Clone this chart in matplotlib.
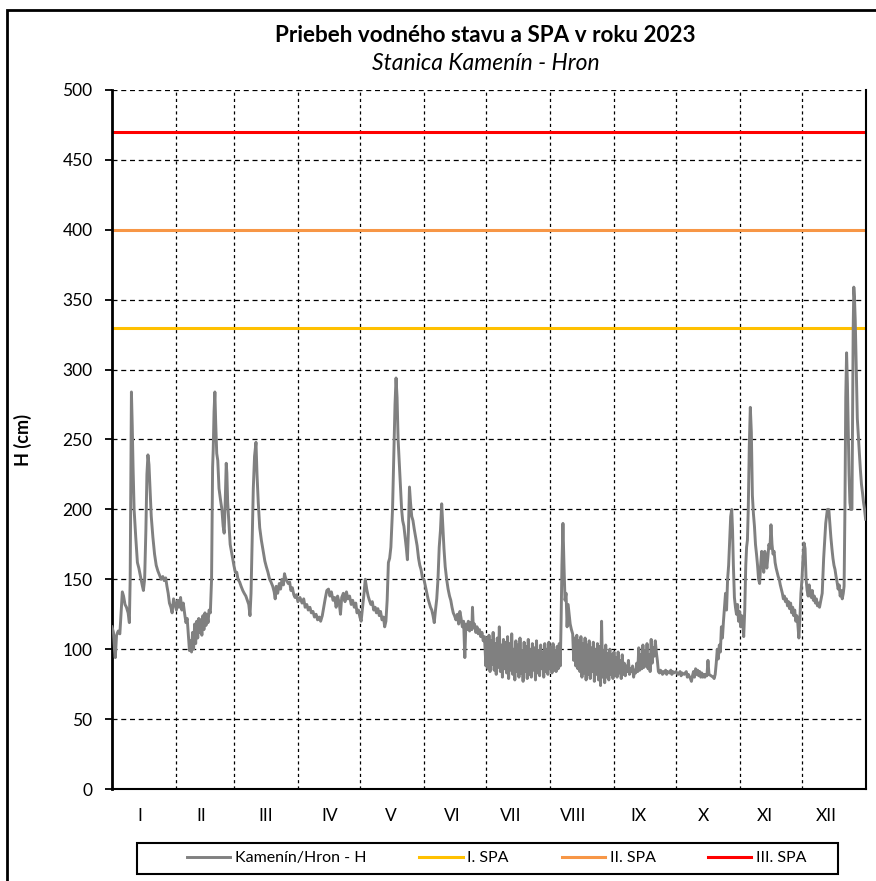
import numpy as np
import matplotlib
matplotlib.use('Agg')
import matplotlib.pyplot as plt
from matplotlib.patches import Rectangle

plt.rcParams['font.family'] = ['Lato', 'DejaVu Sans']

# water level readings, (day of year from 1 Jan, H in cm)
jan = [(0, 116), (0.7, 112), (1.2, 100), (1.6, 94), (2.2, 110), (3, 113), (3.8, 111), (4.5, 128),
       (5, 141), (5.6, 138), (6.3, 132), (7, 130), (7.8, 126), (8.4, 119), (8.8, 150), (9.1, 220),
       (9.4, 284), (9.8, 260), (10.2, 230), (10.7, 200), (11.5, 180), (12.3, 162), (13, 158),
       (13.8, 152), (14.6, 146), (15.2, 142), (15.8, 150), (16.4, 185), (16.9, 225), (17.4, 239),
       (17.9, 232), (18.4, 215), (19, 195), (19.8, 180), (20.6, 168), (21.4, 160), (22.2, 156),
       (23, 153), (23.8, 150), (24.6, 152), (25.3, 149), (26, 151), (26.6, 145), (27.2, 140),
       (27.8, 133), (28.5, 130), (29.1, 126), (29.8, 136), (30.5, 132)]
feb = [(31.2, 128), (31.8, 135), (32.5, 130), (33.2, 137), (33.8, 128), (34.5, 133), (35.2, 125),
       (35.8, 119), (36.4, 122), (37, 110), (37.5, 99), (38, 106), (38.5, 98), (39, 112), (39.5, 100),
       (40, 118), (40.5, 104), (41, 120), (41.5, 108), (42, 122), (42.5, 112), (43, 121), (43.5, 110),
       (44, 124), (44.5, 114), (45, 126), (45.5, 117), (46, 125), (46.5, 119), (47, 128), (47.6, 126),
       (48.2, 150), (48.7, 230), (49, 243), (49.4, 270), (49.8, 284), (50.2, 262), (50.7, 240),
       (51.2, 235), (51.8, 215), (52.5, 207), (53.2, 200), (53.8, 188), (54.3, 183), (54.8, 205),
       (55.3, 233), (55.6, 226), (56, 205), (56.6, 190), (57.2, 175), (57.8, 170), (58.4, 165)]
mar = [(59, 160), (59.7, 155), (60.4, 155), (61, 150), (61.8, 148), (62.5, 145), (63.3, 142),
       (64, 140), (64.8, 138), (65.5, 135), (66.2, 132), (66.8, 124), (67.3, 140), (67.8, 175),
       (68.4, 215), (69, 238), (69.7, 248), (70.2, 225), (70.8, 205), (71.5, 187), (72.3, 178),
       (73.2, 170), (74, 163), (74.7, 159), (75.5, 155), (76.3, 150), (77, 148), (77.8, 145),
       (78.5, 141), (79, 136), (79.5, 145), (80.2, 140), (81, 147), (81.6, 143), (82.3, 150),
       (83, 146), (83.5, 154), (84, 151), (84.6, 149), (85.3, 147), (86, 148), (86.6, 142),
       (87.3, 144), (88, 139), (88.6, 137), (89.3, 139)]
apr = [(90, 134), (91, 137), (92, 133), (92.8, 136), (93.5, 130), (94.3, 132), (95, 128), (95.8, 130),
       (96.5, 126), (97.3, 127), (98, 123), (98.8, 125), (99.5, 121), (100.3, 123), (101, 120),
       (101.8, 124), (102.5, 130), (103.2, 136), (104, 142), (104.8, 143), (105.5, 138), (106.2, 141),
       (107, 135), (107.8, 137), (108.5, 130), (109.2, 138), (110, 133), (110.6, 125), (111.2, 137),
       (112, 140), (112.8, 134), (113.5, 141), (114.2, 136), (115, 138), (115.8, 132), (116.5, 135),
       (117.3, 130), (118, 133), (118.6, 126), (119.3, 128)]
may = [(120, 123), (120.6, 120), (121.3, 130), (122, 140), (122.6, 150), (123.3, 143), (124, 138),
       (124.6, 135), (125.3, 132), (126, 134), (126.7, 128), (127.4, 130), (128, 126), (128.7, 129),
       (129.4, 124), (130, 127), (130.7, 121), (131.4, 123), (132, 116), (132.6, 120), (133.2, 135),
       (133.8, 162), (134.4, 165), (135, 173), (135.8, 200), (136.5, 245), (137, 275), (137.5, 294),
       (138, 280), (138.5, 250), (139, 235), (139.6, 218), (140.2, 200), (140.7, 192), (141.3, 188),
       (141.9, 180), (142.5, 172), (143, 164), (143.5, 185), (144, 216), (144.5, 205), (145.1, 195),
       (145.7, 192), (146.3, 186), (147, 180), (147.7, 174), (148.4, 165), (149, 160), (149.6, 157),
       (150.3, 151)]
jun = [(151, 150), (151.7, 145), (152.4, 140), (153, 136), (153.6, 133), (154.2, 130), (154.8, 128),
       (155.4, 124), (156, 119), (156.6, 128), (157.2, 136), (157.8, 150), (158.4, 173), (159, 185),
       (159.6, 204), (160.1, 190), (160.7, 172), (161.3, 159), (162, 150), (162.7, 143), (163.4, 138),
       (164, 135), (164.6, 130), (165.2, 126), (165.8, 124), (166.5, 121), (167.2, 125), (167.8, 118),
       (168.4, 127), (169, 122), (169.6, 116), (170.2, 120), (170.8, 94), (171.3, 118), (171.9, 114),
       (172.5, 120), (173.1, 113), (173.7, 119), (174.2, 114), (174.5, 130), (174.9, 116), (175.5, 118),
       (176.1, 112), (176.7, 116), (177.3, 111), (177.9, 114), (178.5, 109), (179.1, 112), (179.7, 106),
       (180.3, 109)]
jul = [(181, 88), (181.5, 108), (182, 86), (182.5, 110), (183, 84), (183.5, 106), (184, 89), (184.5, 112),
       (185, 85), (185.5, 104), (186, 82), (186.5, 108), (187, 87), (187.5, 116), (188, 84), (188.5, 103),
       (189, 80), (189.5, 107), (190, 86), (190.5, 105), (191, 83), (191.5, 109), (192, 79), (192.5, 104),
       (193, 85), (193.5, 111), (194, 82), (194.5, 100), (195, 78), (195.5, 106), (196, 84), (196.5, 103),
       (197, 80), (197.5, 108), (198, 83), (198.5, 99), (199, 77), (199.5, 105), (200, 84), (200.5, 102),
       (201, 79), (201.5, 107), (202, 82), (202.5, 100), (203, 80), (203.5, 104), (204, 85), (204.5, 101),
       (205, 78), (205.5, 106), (206, 83), (206.5, 99), (207, 81), (207.5, 103), (208, 86), (208.5, 98),
       (209, 80), (209.5, 104), (210, 84), (210.5, 100), (211, 82), (211.5, 105)]
aug = [(212, 86), (212.5, 101), (213, 83), (213.5, 104), (214, 85), (214.5, 99), (215, 84), (215.5, 102),
       (216, 86), (216.5, 104), (217, 88), (217.4, 120), (217.8, 160), (218.3, 190), (218.8, 160),
       (219.3, 135), (219.8, 140), (220.3, 116), (220.8, 132), (221.3, 125), (221.8, 118), (222.4, 114),
       (223, 111), (223.5, 92), (224, 108), (224.5, 88), (225, 110), (225.5, 86), (226, 106), (226.5, 84),
       (227, 109), (227.5, 80), (228, 104), (228.5, 83), (229, 108), (229.5, 78), (230, 103), (230.5, 82),
       (231, 106), (231.5, 79), (232, 101), (232.5, 84), (233, 105), (233.5, 77), (234, 100), (234.5, 82),
       (235, 104), (235.5, 78), (236, 102), (236.5, 74), (237, 120), (237.5, 80), (238, 99), (238.5, 76),
       (239, 103), (239.5, 80), (240, 97), (240.5, 78), (241, 100), (241.5, 82), (242, 96), (242.5, 79)]
sep = [(243, 98), (243.5, 81), (244, 94), (244.5, 80), (245, 98), (245.5, 83), (246, 92), (246.5, 79),
       (247, 96), (247.5, 82), (248, 90), (248.5, 81), (249, 88), (249.5, 84), (250, 92), (250.5, 82),
       (251, 86), (251.5, 84), (252, 88), (252.5, 80), (253, 85), (253.5, 83), (254, 90), (254.5, 84),
       (255, 101), (255.5, 85), (256, 96), (256.5, 86), (257, 103), (257.5, 87), (258, 99), (258.5, 88),
       (259, 104), (259.5, 86), (260, 96), (260.5, 84), (261, 107), (261.5, 90), (262, 101), (262.5, 95),
       (263, 106), (263.5, 98), (264, 92), (264.5, 84), (265, 83), (265.5, 85), (266, 84), (266.5, 82),
       (267, 84), (267.5, 83), (268, 85), (268.5, 82), (269, 84), (270, 83), (270.5, 85), (271, 82),
       (271.5, 84), (272, 83)]
oct_ = [(273, 84), (274, 82), (275, 84), (275.5, 81), (276, 83), (277, 82), (278, 84), (278.5, 80),
        (279, 82), (280, 79), (280.5, 77), (281, 81), (281.5, 84), (282, 80), (282.5, 86), (283, 82),
        (283.5, 85), (284, 81), (284.5, 84), (285, 80), (285.5, 83), (286, 80), (286.5, 82), (287, 80),
        (287.5, 82), (288, 81), (288.5, 92), (289, 82), (290, 81), (291, 80), (291.5, 79), (292, 82),
        (292.5, 90), (293, 100), (293.5, 93), (294, 103), (294.5, 98), (295, 116), (295.5, 108),
        (296, 120), (296.5, 130), (297, 140), (297.5, 128), (298, 150), (298.5, 160), (299, 178),
        (299.5, 195), (300, 200), (300.4, 185), (300.8, 160), (301.3, 137), (301.8, 130), (302.3, 125),
        (302.8, 132), (303.3, 120)]
nov = [(303.8, 127), (304.3, 116), (304.8, 124), (305.3, 119), (305.8, 109), (306.3, 128), (306.8, 160),
       (307.2, 173), (307.6, 178), (308, 200), (308.5, 245), (309, 273), (309.5, 255), (310, 210),
       (310.5, 197), (311, 188), (311.5, 175), (312, 168), (312.5, 160), (313, 150), (313.5, 147),
       (314, 160), (314.5, 170), (315, 162), (315.5, 155), (316, 170), (316.5, 165), (317, 158),
       (317.5, 166), (318, 175), (318.5, 172), (319, 189), (319.5, 175), (320, 168), (320.5, 170),
       (321, 162), (321.5, 158), (322, 155), (322.5, 152), (323, 150), (323.5, 146), (324, 143),
       (324.5, 140), (325, 136), (325.5, 138), (326, 134), (326.5, 136), (327, 131), (327.5, 134),
       (328, 129), (328.5, 133), (329, 126), (329.5, 130), (330, 124), (330.5, 128), (331, 120),
       (331.5, 124), (332, 118), (332.5, 108), (333, 122)]
dec = [(333.5, 140), (334, 150), (334.5, 165), (335, 176), (335.5, 172), (336, 150), (336.5, 142),
       (337, 138), (337.5, 146), (338, 140), (338.5, 137), (339, 142), (339.5, 135), (340, 138),
       (340.5, 133), (341, 136), (341.5, 131), (342, 133), (342.5, 130), (343, 134), (343.8, 140),
       (344.5, 165), (345.5, 190), (346.3, 200), (347, 200), (347.5, 190), (348, 180), (348.5, 172),
       (349, 165), (349.5, 160), (350, 157), (350.5, 152), (351, 148), (351.5, 143), (352, 146),
       (352.5, 138), (353, 142), (353.5, 136), (354, 140), (354.4, 145), (354.8, 200), (355.2, 280),
       (355.6, 312), (356, 290), (356.4, 257), (356.8, 225), (357.2, 205), (357.6, 200), (358.2, 200),
       (358.5, 260), (358.8, 330), (359.1, 359), (359.4, 352), (359.8, 335), (360.3, 300), (360.8, 265),
       (361.3, 252), (361.8, 240), (362.3, 228), (362.8, 218), (363.3, 212), (363.8, 205), (364.3, 200),
       (364.8, 193)]

month_starts = [31, 59, 90, 120, 151, 181, 212, 243, 273, 304, 334]
label_pos = [13.5, 43, 74.5, 105.5, 135, 164.6, 193, 223, 255, 286.5, 316, 345.6]
month_names = ['I', 'II', 'III', 'IV', 'V', 'VI', 'VII', 'VIII', 'IX', 'X', 'XI', 'XII']

spa_levels = [330, 400, 470]
spa_names = ['I. SPA', 'II. SPA', 'III. SPA']
spa_colors = ['#FFC000', '#F79646', '#FF0000']


def main():
    series = jan + feb + mar + apr + may + jun + jul + aug + sep + oct_ + nov + dec
    days = np.array([p[0] for p in series])
    h = np.array([p[1] for p in series])

    fig = plt.figure(figsize=(8.76, 8.81), dpi=100)
    ax = fig.add_axes([112 / 876, 92 / 881, 754 / 876, 699 / 881])

    # grid
    for v in range(50, 501, 50):
        ax.axhline(v, color='black', lw=0.9, ls=(0, (4, 3)), zorder=1)
    for m in month_starts:
        ax.axvline(m, color='black', lw=0.9, ls=(0, (2.5, 2.5)), zorder=1)

    ax.plot(days, h, color='#808080', lw=2.1, label='Kamenín/Hron - H', zorder=3)
    for lvl, name, c in zip(spa_levels, spa_names, spa_colors):
        ax.axhline(lvl, color=c, lw=2.2, label=name, zorder=2)

    ax.set_xlim(0, 365)
    ax.set_ylim(0, 500)
    ax.set_yticks(range(0, 501, 50))
    ax.set_xticks(label_pos)
    ax.set_xticklabels(month_names)
    ax.tick_params(axis='x', length=0, pad=14, labelsize=12.5)
    ax.tick_params(axis='y', length=5, width=1.3, pad=9, labelsize=12.5, direction='out')

    ax.spines['top'].set_visible(False)
    ax.spines['left'].set_linewidth(2)
    ax.spines['bottom'].set_linewidth(1.5)
    ax.spines['right'].set_linewidth(1.5)

    ax.set_ylabel('H (cm)', fontsize=13, fontweight='bold')
    ax.yaxis.set_label_coords(-0.106, 0.5)

    fig.text(485 / 876, 1 - 35 / 881, 'Priebeh vodného stavu a SPA v roku 2023',
             ha='center', va='center', fontsize=16.2, fontweight='bold')
    fig.text(486 / 876, 1 - 63 / 881, 'Stanica Kamenín - Hron',
             ha='center', va='center', fontsize=16.5, style='italic')

    fig.legend(loc='center', bbox_to_anchor=(497 / 876, 1 - 858 / 881), ncol=4,
               fontsize=11.5, frameon=False, handlelength=2.7, columnspacing=3.3,
               handletextpad=0.3)
    # legend box
    fig.patches.append(Rectangle((137 / 876, 1 - 874 / 881), 701 / 876, 31 / 881,
                                 transform=fig.transFigure, fill=False,
                                 edgecolor='black', lw=1.5))

    # outer border of the chart
    fig.patches.append(Rectangle((7 / 876, -0.05), 1.2, 1 - 10 / 881 + 0.05,
                                 transform=fig.transFigure, fill=False,
                                 edgecolor='black', lw=2))

    fig.savefig('out.png', dpi=100)


if __name__ == '__main__':
    main()
